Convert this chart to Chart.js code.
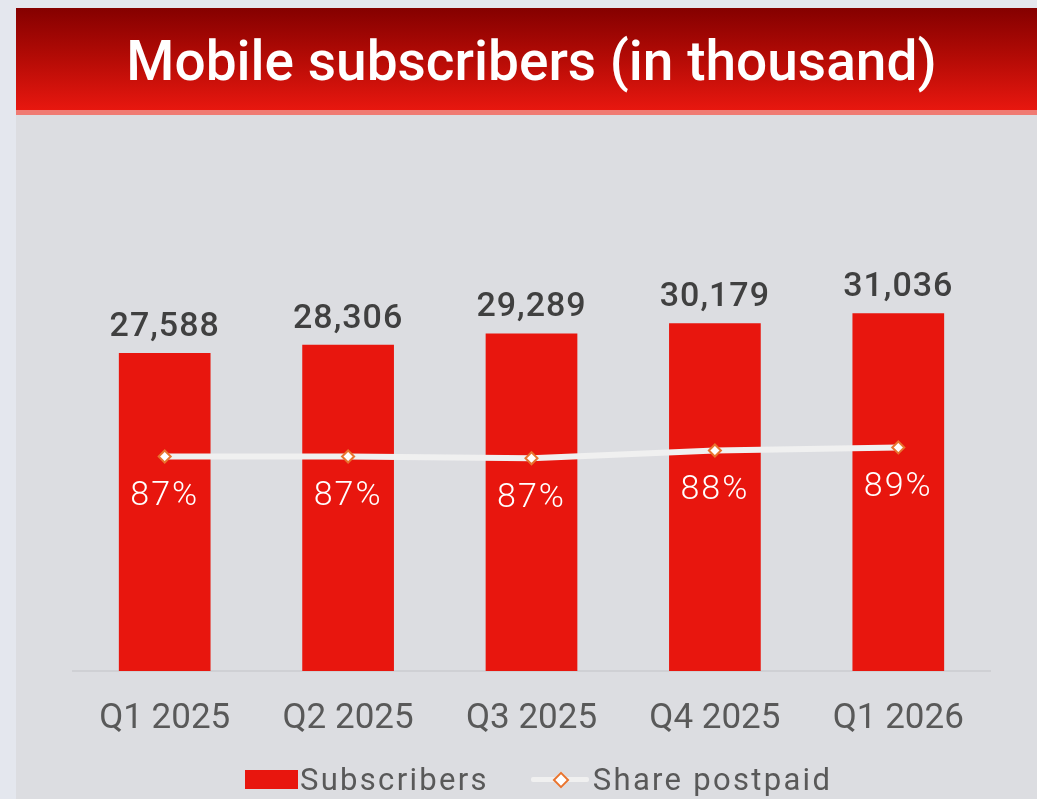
<!DOCTYPE html>
<html>
<head>
<meta charset="utf-8">
<script src="https://cdn.jsdelivr.net/npm/chart.js@4.4.1/dist/chart.umd.min.js"></script>
<style>
  html, body { margin: 0; padding: 0; }
  body { width: 1037px; height: 799px; background: #e4e7ee; position: relative; overflow: hidden; font-family: Roboto, sans-serif; }
  #banner {
    position: absolute; left: 16px; top: 8px; width: 1021px; height: 102px;
    background: linear-gradient(to bottom, #850000 0%, #b00a05 45%, #e8170f 100%);
    color: #fff; font-size: 55px; font-weight: 500; text-align: center;
    line-height: 106px; padding-left: 10px; box-sizing: border-box;
  }
  #stripe { position: absolute; left: 16px; top: 110px; width: 1021px; height: 5px; background: #f07a72; }
  #panel { position: absolute; left: 16px; top: 115px; width: 1021px; height: 684px; background: #dcdde1; }
  #wrap { position: absolute; left: 0; top: 0; width: 1037px; height: 799px; }
  #legend { position: absolute; top: 762px; left: 245px; height: 34px; display: flex; align-items: center;
    font-size: 31px; letter-spacing: 2.3px; color: #595959; }
  .sw-bar { width: 53px; height: 19px; background: #e8160e; margin-right: 2px; }
  .sw-line { position: relative; width: 58px; height: 19px; margin-left: 42px; margin-right: 4px; }
  .sw-line:before { content: ''; position: absolute; left: 0; right: 0; top: 7px; height: 5px; background: #f0f0f0; border-radius: 2px; }
  .sw-line:after { content: ''; position: absolute; left: 24px; top: 4px; width: 8px; height: 8px; background: #fff;
    border: 2px solid #e8742f; transform: rotate(45deg); }
</style>
</head>
<body>
<div id="banner">Mobile subscribers (in thousand)</div>
<div id="stripe"></div>
<div id="panel"></div>
<div id="wrap"><canvas id="chart" width="1037" height="799"></canvas></div>
<div id="legend">
  <div class="sw-bar"></div><span>Subscribers</span>
  <div class="sw-line"></div><span>Share postpaid</span>
</div>
<script>
const quarters = ['Q1 2025', 'Q2 2025', 'Q3 2025', 'Q4 2025', 'Q1 2026'];
const subscribers = [27588, 28306, 29289, 30179, 31036];
const sharePostpaid = [87.2, 87.2, 86.9, 88.2, 88.7];

const valueLabels = {
    id: 'valueLabels',
    afterDatasetsDraw(chart) {
        const ctx = chart.ctx;
        ctx.save();
        ctx.textAlign = 'center';

        // subscriber totals above bars
        ctx.fillStyle = '#404040';
        ctx.font = '500 34px Roboto';
        ctx.letterSpacing = '1px';
        ctx.textBaseline = 'alphabetic';
        chart.getDatasetMeta(0).data.forEach((bar, i) => {
            ctx.fillText(subscribers[i].toLocaleString('en-US'), bar.x, bar.y - 17);
        });

        // postpaid share below the line points
        ctx.fillStyle = '#ffffff';
        ctx.font = '300 34px Roboto';
        ctx.letterSpacing = '2px';
        ctx.textBaseline = 'middle';
        chart.getDatasetMeta(1).data.forEach((pt, i) => {
            ctx.fillText(Math.round(sharePostpaid[i]) + '%', pt.x, pt.y + 40);
        });
        ctx.restore();
    }
};

new Chart(document.getElementById('chart').getContext('2d'), {
    data: {
        labels: quarters,
        datasets: [{
            type: 'bar',
            label: 'Subscribers',
            data: subscribers,
            backgroundColor: '#e8160e',
            categoryPercentage: 1,
            barPercentage: 0.5,
            yAxisID: 'y',
            order: 1
        }, {
            type: 'line',
            label: 'Share postpaid',
            data: sharePostpaid,
            borderColor: '#f0f0f0',
            borderWidth: 6,
            tension: 0,
            pointStyle: 'rectRot',
            pointRadius: 6,
            pointBackgroundColor: '#ffffff',
            pointBorderColor: '#e8742f',
            pointBorderWidth: 2,
            yAxisID: 'y2',
            order: 0
        }]
    },
    options: {
        responsive: false,
        animation: false,
        layout: {
            padding: { left: 73, right: 47, top: 150, bottom: 40 }
        },
        plugins: {
            legend: { display: false },
            tooltip: { enabled: false }
        },
        scales: {
            x: {
                grid: { display: false },
                border: { display: true, color: '#cfd0d4', width: 2 },
                ticks: {
                    color: '#595959',
                    font: { family: 'Roboto', size: 35 },
                    padding: 19
                }
            },
            y: {
                display: false,
                min: 0,
                max: 45200
            },
            y2: {
                display: false,
                position: 'right',
                min: 51.5,
                max: 138.2
            }
        }
    },
    plugins: [valueLabels]
});
</script>
</body>
</html>
